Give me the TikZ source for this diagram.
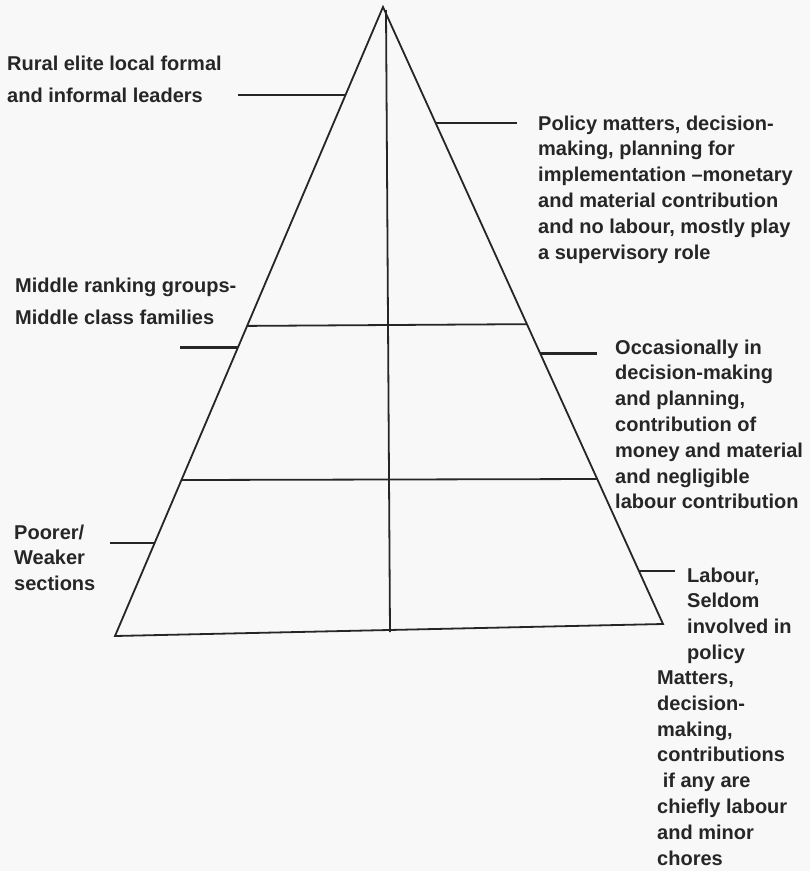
\documentclass[tikz,border=0pt]{standalone}
\usepackage{fontspec}
\setmainfont{Liberation Sans}
\usepackage{tikz}
\usetikzlibrary{calc}
\definecolor{scanink}{HTML}{262626}
\definecolor{scanpaper}{HTML}{F8F8F8}

\begin{document}
\begin{tikzpicture}[
    x=1pt, y=-1pt,
    edge/.style={line width=1.8pt, scanink},
    leader/.style={line width=2.6pt, scanink},
    tag/.style={anchor=base west, inner sep=0pt, align=left, text=scanink, font=\fontsize{20}{25.8}\selectfont\bfseries},
    widetag/.style={tag, font=\fontsize{20}{32.5}\selectfont\bfseries}
]
\fill[scanpaper] (0,0) rectangle (810,871);
\useasboundingbox (0,0) rectangle (810,871);

% pyramid outline and middle axis
\coordinate (apex) at (383,7);
\coordinate (bl) at (115,636);
\coordinate (br) at (663,624);
\coordinate (axtop) at (386,10);
\coordinate (axbot) at (390,632);
\draw[edge] (bl) -- (apex) -- (br) -- cycle;
\draw[edge] (axtop) -- (axbot);

% tiers
\coordinate (t1l) at ($(apex)!0.507!(bl)$);
\coordinate (t1r) at ($(apex)!0.514!(br)$);
\coordinate (t2l) at ($(apex)!0.752!(bl)$);
\coordinate (t2r) at ($(apex)!0.765!(br)$);
\draw[edge] (t1l) -- (t1r);
\draw[edge] (t2l) -- (t2r);

% leader lines
\coordinate (l1) at ($(apex)!0.140!(bl)$);
\coordinate (r1) at ($(apex)!0.188!(br)$);
\coordinate (l2) at ($(apex)!0.541!(bl)$);
\coordinate (r2) at ($(apex)!0.562!(br)$);
\coordinate (l3) at ($(apex)!0.852!(bl)$);
\coordinate (r3) at ($(apex)!0.914!(br)$);
\coordinate (l1end) at (238,95);
\coordinate (r1end) at (517,123);
\coordinate (l2end) at (180,347);
\coordinate (r2end) at (597,354);
\coordinate (l3end) at (110,543);
\coordinate (r3end) at (675,571);
\draw[leader] (l1) -- (l1 -| l1end);
\draw[leader] (r1) -- (r1 -| r1end);
\draw[leader] (l2) -- (l2 -| l2end);
\draw[leader] (r2) -- (r2 -| r2end);
\draw[leader] (l3) -- (l3 -| l3end);
\draw[leader] (r3) -- (r3 -| r3end);

% labels (anchored on the baseline of their last line)
\node[widetag] (elite) at (7,102.5) {Rural elite local formal\\and informal leaders};
\node[widetag] (middle) at (15,324.5) {Middle ranking groups-\\Middle class families};
\node[tag] (poorer) at (14,590.6) {Poorer/\\Weaker\\sections};
\node[tag] (policy) at (538,259) {Policy matters, decision-\\making, planning for\\implementation --monetary\\and material contribution\\and no labour, mostly play\\a supervisory role};
\node[tag] (occasional) at (615,508.8) {Occasionally in\\decision-making\\and planning,\\contribution of\\money and material\\and negligible\\labour contribution};
\node[tag] (labour) at (687,659.4) {Labour,\\Seldom\\involved in\\policy};
\node[tag] (chores) at (657,865) {Matters,\\decision-\\making,\\contributions\\\ if any are\\chiefly labour\\and minor\\chores};
\end{tikzpicture}
\end{document}
